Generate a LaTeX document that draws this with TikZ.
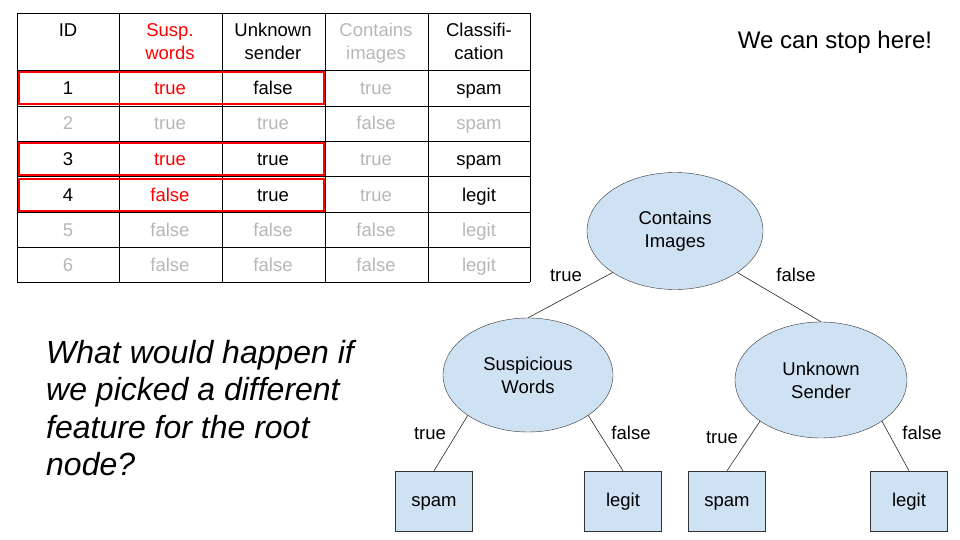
\documentclass[tikz,border=0pt]{standalone}
\usepackage{fontspec}
\setmainfont{Liberation Sans}
\usetikzlibrary{shapes.geometric}
\definecolor{grayt}{HTML}{B7B7B7}
\definecolor{redt}{HTML}{FF0000}
\definecolor{nodefill}{HTML}{CFE2F3}
\begin{document}
\begin{tikzpicture}[x=1pt,y=-1pt,
  cell/.style={font=\fontsize{18.5}{23}\selectfont, align=center, inner sep=0pt, anchor=base},
  hcell/.style={font=\fontsize{18.5}{23}\selectfont, align=center, inner sep=0pt, anchor=base},
  g/.style={text=grayt},
  r/.style={text=redt},
  hl/.style={draw=redt, line width=2.5pt},
  tnode/.style={ellipse, draw=black!80, fill=nodefill, minimum width=176pt, minimum height=117pt, inner sep=0pt, align=center, font=\fontsize{18.5}{23}\selectfont},
  leaf/.style={rectangle, draw=black!80, fill=nodefill, minimum width=77pt, minimum height=60pt, inner sep=0pt, text height=15pt, text depth=4pt, font=\fontsize{18.5}{23}\selectfont},
  elab/.style={font=\fontsize{18.5}{23}\selectfont, inner sep=0pt, anchor=base},
  edge/.style={draw=black!85, line width=0.6pt}
]
\useasboundingbox (0,0) rectangle (960,540);
% table grid
\foreach \x in {17,119,222,325,428,530} \draw[line width=0.9pt] (\x,13) -- (\x,282);
\foreach \y in {13,70,106,141,176,212,247,282} \draw[line width=0.9pt] (17,\y) -- (530,\y);
% header (base = baseline of last line)
\node[hcell] (h1) at (68,36.5) {ID};
\node[hcell,r] (h2) at (170,59.5) {Susp.\\words};
\node[hcell] (h3) at (273,59.5) {Unknown\\sender};
\node[hcell,g] (h4) at (376,59.5) {Contains\\images};
\node[hcell] (h5) at (479,59.5) {Classifi-\\cation};
% rows
\node[cell] (a1) at (68,94.5) {1};
\node[cell,r] (b1) at (170,94.5) {true};
\node[cell] (c1) at (273,94.5) {false};
\node[cell,g] (d1) at (376,94.5) {true};
\node[cell] (e1) at (479,94.5) {spam};
\node[cell,g] (a2) at (68,130) {2};
\node[cell,g] (b2) at (170,130) {true};
\node[cell,g] (c2) at (273,130) {true};
\node[cell,g] (d2) at (376,130) {false};
\node[cell,g] (e2) at (479,130) {spam};
\node[cell] (a3) at (68,165.5) {3};
\node[cell,r] (b3) at (170,165.5) {true};
\node[cell] (c3) at (273,165.5) {true};
\node[cell,g] (d3) at (376,165.5) {true};
\node[cell] (e3) at (479,165.5) {spam};
\node[cell] (a4) at (68,201) {4};
\node[cell,r] (b4) at (170,201) {false};
\node[cell] (c4) at (273,201) {true};
\node[cell,g] (d4) at (376,201) {true};
\node[cell] (e4) at (479,201) {legit};
\node[cell,g] (a5) at (68,236) {5};
\node[cell,g] (b5) at (170,236) {false};
\node[cell,g] (c5) at (273,236) {false};
\node[cell,g] (d5) at (376,236) {false};
\node[cell,g] (e5) at (479,236) {legit};
\node[cell,g] (a6) at (68,271.5) {6};
\node[cell,g] (b6) at (170,271.5) {false};
\node[cell,g] (c6) at (273,271.5) {false};
\node[cell,g] (d6) at (376,271.5) {false};
\node[cell,g] (e6) at (479,271.5) {legit};
% red highlights
\draw[hl] (19,72) rectangle (324,104);
\draw[hl] (19,143) rectangle (324,175);
\draw[hl] (19,179) rectangle (324,211);
% top right text
\node[font=\fontsize{24}{28}\selectfont, inner sep=0pt, anchor=base] (stop) at (835,48.5) {We can stop here!};
% question
\node[font=\fontsize{32}{37.5}\selectfont\itshape, align=left, anchor=base west, inner sep=0pt] (q) at (46,475.5) {What would happen if\\we picked a different\\feature for the root\\node?};
% tree
\node[tnode] (root) at (675,231) {Contains\\Images};
\node[tnode, minimum width=170pt, minimum height=114pt] (sw) at (528,375) {Suspicious\\Words};
\node[tnode, minimum width=172pt, minimum height=116pt] (us) at (821,380) {Unknown\\Sender};
\node[leaf] (l1) at (434,501) {spam};
\node[leaf] (l2) at (623,501) {legit};
\node[leaf] (l3) at (727,501) {spam};
\node[leaf] (l4) at (909,501) {legit};
\draw[edge] (root.south west) -- (sw.north);
\draw[edge] (root.south east) -- (us.north);
\draw[edge] (sw.south west) -- (l1.north);
\draw[edge] (sw.south east) -- (l2.north);
\draw[edge] (us.south west) -- (l3.north);
\draw[edge] (us.south east) -- (l4.north);
\node[elab] (t1) at (566,281) {true};
\node[elab] (f1) at (796,281) {false};
\node[elab] (t2) at (430,439.5) {true};
\node[elab] (f2) at (631,439.5) {false};
\node[elab] (t3) at (722,443.5) {true};
\node[elab] (f3) at (922,439.5) {false};
\end{tikzpicture}
\end{document}
